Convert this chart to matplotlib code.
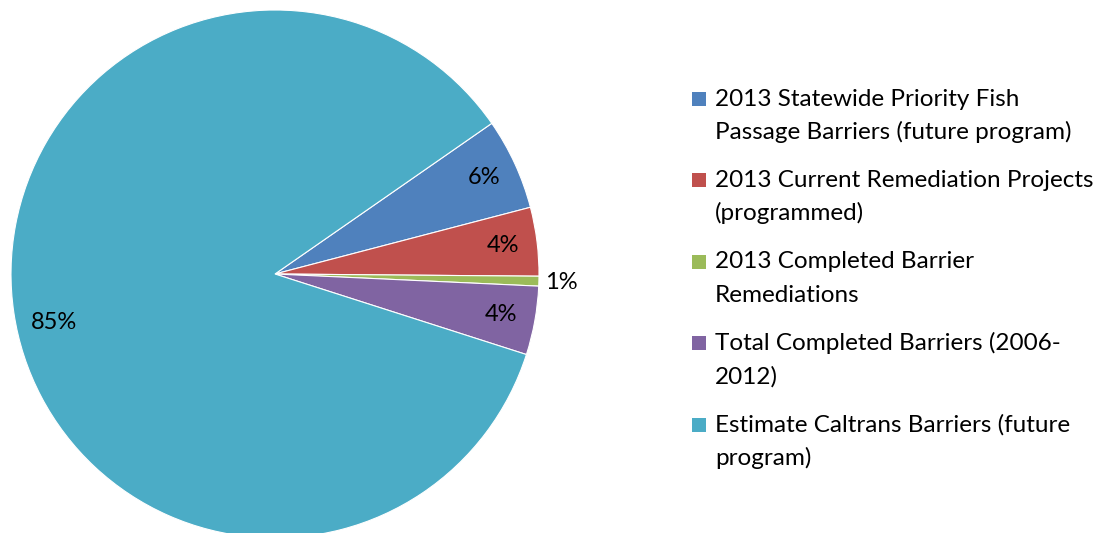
import numpy as np
import matplotlib
matplotlib.use("Agg")
import matplotlib.pyplot as plt
from matplotlib.patches import Rectangle

# datos (porcentajes)
categorias = ["2013 Statewide Priority Fish\nPassage Barriers (future program)",
              "2013 Current Remediation Projects\n(programmed)",
              "2013 Completed Barrier\nRemediations",
              "Total Completed Barriers (2006-\n2012)",
              "Estimate Caltrans Barriers (future\nprogram)"]
valores = [5.6, 4.2, 0.6, 4.2, 85.4]
colores = ["#4F81BD", "#C0504D", "#9BBB59", "#8064A2", "#4BACC6"]

plt.rcParams['font.family'] = ['Lato', 'DejaVu Sans']

W, H = 1106, 533
ventana = plt.figure(figsize=(W/100, H/100), dpi=100)

# pie axes: center (275,274) px, radius 264 px
cx, cy, r = 275, 274, 264
plano = ventana.add_axes([(cx-r)/W, (H-cy-r)/H, 2*r/W, 2*r/H])
cunas, textos, autos = plano.pie(valores, colors=colores, startangle=34.8,
                                 counterclock=False, autopct='%1.0f%%',
                                 pctdistance=0.87,
                                 wedgeprops=dict(edgecolor='white', linewidth=0.8),
                                 textprops=dict(fontsize=17, color='black'))
plano.set_xlim(-1, 1)
plano.set_ylim(-1, 1)
plano.set_aspect('equal')
plano.axis('off')
for c in cunas:
    c.set_clip_on(False)

# etiqueta 1% fuera de la cuña
autos[2].set_position((1.022, -0.034))
autos[2].set_ha('left')
# etiqueta 85% un poco mas abajo
ang = np.deg2rad(192.3)
autos[4].set_position((0.855*np.cos(ang), 0.855*np.sin(ang)))

# leyenda manual
x_cuadro, x_texto = 692, 715
base0, paso, interlinea = 105.5, 81.5, 33.5
for i, (cat, col) in enumerate(zip(categorias, colores)):
    b = base0 + i*paso
    ventana.patches.append(Rectangle((x_cuadro/W, (H-b)/H), 14/W, 14/H,
                                     transform=ventana.transFigure,
                                     facecolor=col, edgecolor='none'))
    for j, linea in enumerate(cat.split("\n")):
        ventana.text(x_texto/W, (H-(b + j*interlinea))/H, linea,
                     fontsize=17.5, va='baseline', ha='left', color='black')

ventana.savefig("out.png", dpi=100)
